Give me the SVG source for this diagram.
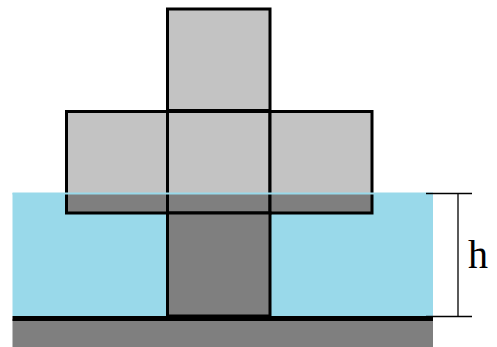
<svg xmlns="http://www.w3.org/2000/svg" width="497" height="347" viewBox="0 0 497 347">
<style>
.dry{fill:#c3c3c3}
.wet{fill:#7f7f7f}
.edge{fill:none;stroke:#000;stroke-width:3}
.dim{stroke:#000;stroke-width:1.3;fill:none}
</style>
<rect width="497" height="347" fill="#fff"/>
<g id="ground">
<rect x="12.5" y="319" width="420.5" height="28" fill="#7f7f7f"/>
<line x1="12.5" y1="318.5" x2="433" y2="318.5" stroke="#000" stroke-width="5"/>
</g>
<g id="water">
<rect x="12.5" y="193" width="420.5" height="123" fill="#99d9ea"/>
</g>
<g id="block-top">
<rect class="dry" x="167.5" y="9" width="102.5" height="101.5"/>
<rect class="edge" x="167.5" y="9" width="102.5" height="101.5"/>
</g>
<g id="block-left">
<rect class="dry" x="66.5" y="111.5" width="101" height="81.5"/>
<rect class="wet" x="66.5" y="193" width="101" height="20"/>
<rect class="edge" x="66.5" y="111.5" width="101" height="101.5"/>
</g>
<g id="block-center">
<rect class="dry" x="167.5" y="111.5" width="102.5" height="81.5"/>
<rect class="wet" x="167.5" y="193" width="102.5" height="20"/>
<rect class="edge" x="167.5" y="111.5" width="102.5" height="101.5"/>
</g>
<g id="block-right">
<rect class="dry" x="270" y="111.5" width="102" height="81.5"/>
<rect class="wet" x="270" y="193" width="102" height="20"/>
<rect class="edge" x="270" y="111.5" width="102" height="101.5"/>
</g>
<g id="column">
<rect class="wet" x="167.5" y="213" width="102.5" height="103"/>
<rect class="edge" x="167.5" y="213" width="102.5" height="103"/>
</g>
<line x1="12.5" y1="193.5" x2="433" y2="193.5" stroke="#99d9ea" stroke-width="2"/>
<g id="connectors">
<line class="dim" x1="426" y1="193.5" x2="472" y2="193.5"/>
<line class="dim" x1="426" y1="316.5" x2="472" y2="316.5"/>
<line class="dim" x1="458" y1="193.5" x2="458" y2="316.5"/>
</g>
<g id="label-h">
<text x="478" y="268" font-family="Liberation Serif, serif" font-size="40" text-anchor="middle" fill="#000">h</text>
</g>
</svg>
